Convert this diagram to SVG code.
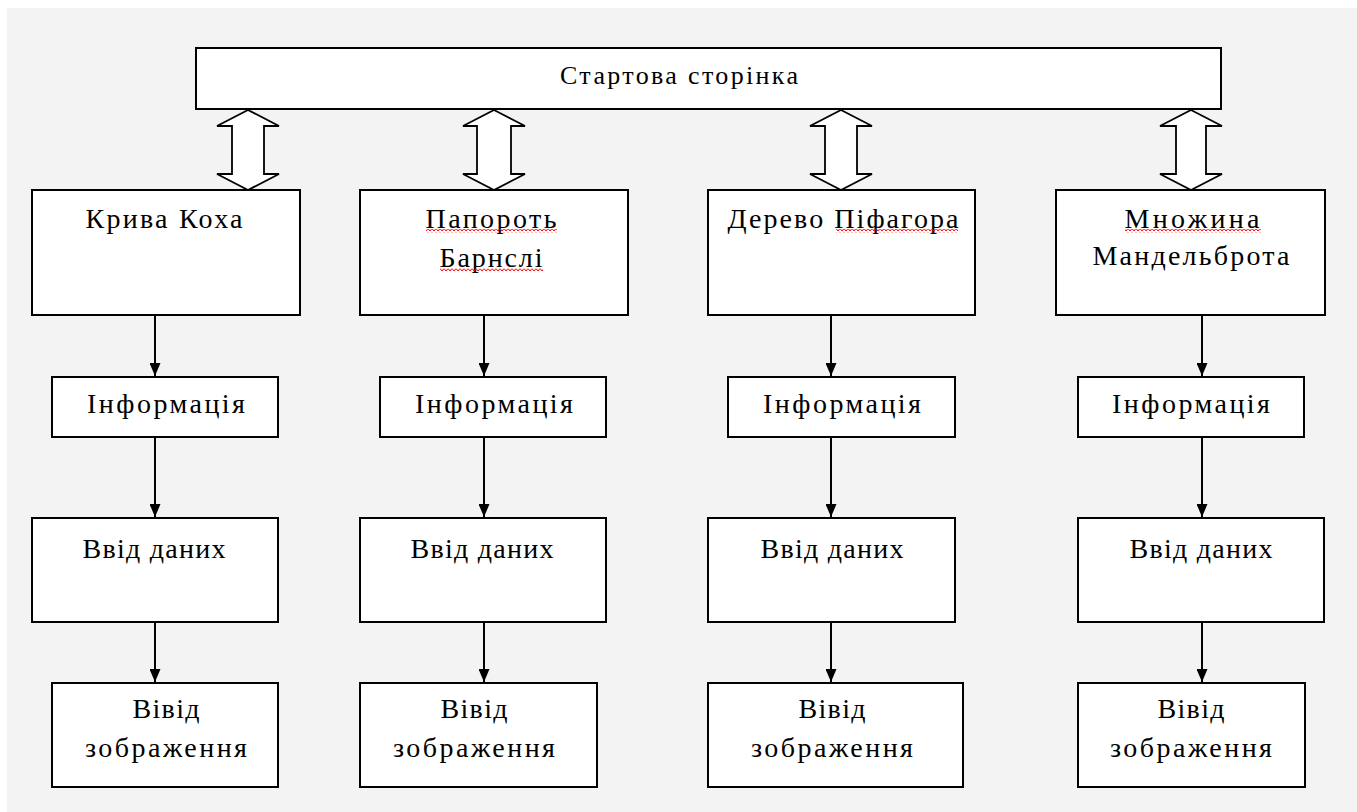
<svg xmlns="http://www.w3.org/2000/svg" width="1357" height="812" viewBox="0 0 1357 812">
<style>
.box{fill:#fff;stroke:#000;stroke-width:2}
.dbl{fill:#fff;stroke:#000;stroke-width:1.8;stroke-linejoin:miter}
.t{font-family:"Liberation Serif","Times New Roman",serif;font-size:28px;fill:#000;text-anchor:middle}
.tt{font-size:26px}
.con{stroke:#000;stroke-width:2;fill:none;marker-end:url(#ah)}
.wavy{fill:url(#wv)}
</style>
<defs>
<marker id="ah" markerUnits="userSpaceOnUse" markerWidth="13" markerHeight="11" viewBox="0 0 13 11" refX="13" refY="5.5" orient="auto">
<path d="M0 0 L13 5.5 L0 11 Z" fill="#000"/>
</marker>
<pattern id="wv" patternUnits="userSpaceOnUse" width="4" height="4">
<path d="M0 0.5 L2 3 L4 0.5" fill="none" stroke="#f00" stroke-width="1"/>
</pattern>
</defs>
<rect x="0" y="0" width="1357" height="812" fill="#fff"/>
<rect x="7" y="8" width="1350" height="804" fill="#f3f3f3"/>

<g id="start">
<rect class="box" x="196" y="48" width="1025" height="61"/>
<text class="t tt" x="679" y="84" textLength="238" lengthAdjust="spacing">Стартова сторінка</text>
</g>

<g id="double-arrows">
<polygon class="dbl" points="248,110 279,126 264,126 264,174 279,174 248,190 217,174 232,174 232,126 217,126"/>
<polygon class="dbl" points="494,110 525,126 511,126 511,174 525,174 494,190 463,174 477,174 477,126 463,126"/>
<polygon class="dbl" points="841,110 872,126 857,126 857,174 872,174 841,190 810,174 825,174 825,126 810,126"/>
<polygon class="dbl" points="1191,110 1222,126 1206,126 1206,174 1222,174 1191,190 1160,174 1176,174 1176,126 1160,126"/>
</g>

<g id="koch">
<rect class="box" x="32" y="190" width="268" height="125"/>
<text class="t" x="164" y="228" textLength="157" lengthAdjust="spacing">Крива Коха</text>
</g>
<g id="fern">
<rect class="box" x="360" y="190" width="268" height="125"/>
<text class="t" x="491" y="228" textLength="131" lengthAdjust="spacing">Папороть</text>
<text class="t" x="491" y="267" textLength="103" lengthAdjust="spacing">Барнслі</text>
<rect class="wavy" x="426" y="229" width="131" height="4"/>
<rect class="wavy" x="440" y="268" width="103" height="4"/>
</g>
<g id="pythagoras">
<rect class="box" x="708" y="190" width="267" height="125"/>
<text class="t" x="843" y="228" textLength="231" lengthAdjust="spacing">Дерево Піфагора</text>
<rect class="wavy" x="836" y="229" width="122" height="4"/>
</g>
<g id="mandelbrot">
<rect class="box" x="1056" y="190" width="269" height="125"/>
<text class="t" x="1192" y="228" textLength="135" lengthAdjust="spacing">Множина</text>
<text class="t" x="1191" y="265" textLength="197" lengthAdjust="spacing">Мандельброта</text>
<rect class="wavy" x="1125" y="229" width="136" height="4"/>
</g>

<g id="info1"><rect class="box" x="52" y="377" width="226" height="60"/><text class="t" x="166" y="413" textLength="158" lengthAdjust="spacing">Інформація</text></g>
<g id="info2"><rect class="box" x="380" y="377" width="226" height="60"/><text class="t" x="494" y="413" textLength="158" lengthAdjust="spacing">Інформація</text></g>
<g id="info3"><rect class="box" x="728" y="377" width="227" height="60"/><text class="t" x="842" y="413" textLength="158" lengthAdjust="spacing">Інформація</text></g>
<g id="info4"><rect class="box" x="1078" y="377" width="226" height="60"/><text class="t" x="1191" y="413" textLength="158" lengthAdjust="spacing">Інформація</text></g>

<g id="input1"><rect class="box" x="32" y="518" width="246" height="104"/><text class="t" x="154" y="558" textLength="143" lengthAdjust="spacing">Ввід даних</text></g>
<g id="input2"><rect class="box" x="360" y="518" width="246" height="104"/><text class="t" x="482" y="558" textLength="143" lengthAdjust="spacing">Ввід даних</text></g>
<g id="input3"><rect class="box" x="708" y="518" width="247" height="104"/><text class="t" x="832" y="558" textLength="143" lengthAdjust="spacing">Ввід даних</text></g>
<g id="input4"><rect class="box" x="1078" y="518" width="246" height="104"/><text class="t" x="1201" y="558" textLength="143" lengthAdjust="spacing">Ввід даних</text></g>

<g id="output1"><rect class="box" x="52" y="683" width="226" height="104"/><text class="t" x="166" y="718" textLength="67" lengthAdjust="spacing">Вівід</text><text class="t" x="166" y="757" textLength="162" lengthAdjust="spacing">зображення</text></g>
<g id="output2"><rect class="box" x="360" y="683" width="237" height="104"/><text class="t" x="474" y="718" textLength="67" lengthAdjust="spacing">Вівід</text><text class="t" x="474" y="757" textLength="162" lengthAdjust="spacing">зображення</text></g>
<g id="output3"><rect class="box" x="708" y="683" width="255" height="104"/><text class="t" x="832" y="718" textLength="67" lengthAdjust="spacing">Вівід</text><text class="t" x="832" y="757" textLength="162" lengthAdjust="spacing">зображення</text></g>
<g id="output4"><rect class="box" x="1078" y="683" width="227" height="104"/><text class="t" x="1191" y="718" textLength="67" lengthAdjust="spacing">Вівід</text><text class="t" x="1191" y="757" textLength="162" lengthAdjust="spacing">зображення</text></g>

<g id="connectors">
<line class="con" x1="155" y1="316" x2="155" y2="376"/>
<line class="con" x1="155" y1="438" x2="155" y2="517"/>
<line class="con" x1="155" y1="623" x2="155" y2="682"/>
<line class="con" x1="484" y1="316" x2="484" y2="376"/>
<line class="con" x1="484" y1="438" x2="484" y2="517"/>
<line class="con" x1="484" y1="623" x2="484" y2="682"/>
<line class="con" x1="831" y1="316" x2="831" y2="376"/>
<line class="con" x1="831" y1="438" x2="831" y2="517"/>
<line class="con" x1="831" y1="623" x2="831" y2="682"/>
<line class="con" x1="1202" y1="316" x2="1202" y2="376"/>
<line class="con" x1="1202" y1="438" x2="1202" y2="517"/>
<line class="con" x1="1202" y1="623" x2="1202" y2="682"/>
</g>
</svg>
